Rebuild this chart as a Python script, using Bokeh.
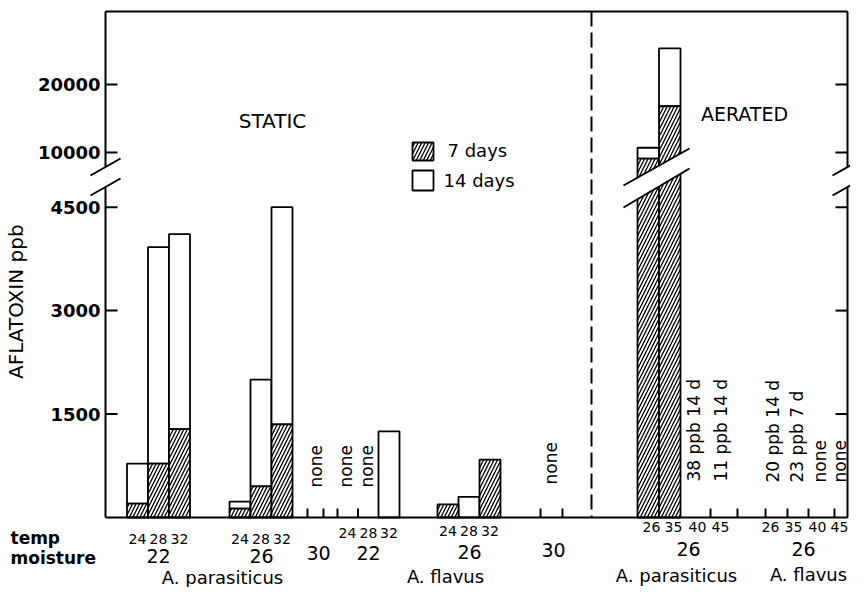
import math
from bokeh.plotting import figure
from bokeh.models import Range1d
from bokeh.core.properties import value
from bokeh.embed import file_html
from bokeh.resources import INLINE

# ---------------- data (ppb) ----------------
STATIC_TEMPS = ["24", "28", "32"]
AERATED_TEMPS = ["26", "35", "40", "45"]
Y_TICKS = [1500, 3000, 4500, 10000, 20000]
Y_TICK_LABELS = ["1500", "3000", "4500", "10000", "20000"]

# STATIC, A. parasiticus, temps 24 / 28 / 32
para_m22_7d = [200, 780, 1280]
para_m22_14d = [780, 3920, 4110]
para_m26_7d = [130, 450, 1350]
para_m26_14d = [230, 2000, 4500]
para_m30_note = "none"

# STATIC, A. flavus
flav_m22_7d = [None, None, 0]
flav_m22_14d = [None, None, 1250]
flav_m26_7d = [190, 0, 840]
flav_m26_14d = [190, 300, 840]
flav_m30_note = "none"

# AERATED, moisture 26, temps 26 / 35 / 40 / 45
aer_para_7d = [9100, 16800, None, None]
aer_para_14d = [10700, 25300, None, None]
aer_para_notes = [None, None, "38 ppb  14 d", "11 ppb  14 d"]
aer_flav_notes = ["20 ppb  14 d", "23 ppb  7 d", "none", "none"]

MOISTURE_LABELS = ["22", "26", "30", "22", "26", "30", "26", "26"]
SPECIES_LABELS = ["A. parasiticus", "A. flavus", "A. parasiticus", "A. flavus"]

# ---------------- layout ----------------
W, H = 850, 587
Y0 = 517            # canvas y of zero
PPB_PX = 14.5       # ppb per pixel (lower scale)


def py(cy):
    return (Y0 - cy) * PPB_PX


BREAK_AT = 4800
UP_BASE = py(152)                     # display position of 10000
UP_K = (py(84) - py(152)) / 10000.0   # upper-scale compression


def disp(v):
    return v if v <= BREAK_AT else UP_BASE + (v - 10000) * UP_K


FONT = value("DejaVu Sans")
BAR_W = 21
C_PARA22 = [137, 158, 179]
C_PARA26 = [239.5, 260.5, 281.5]
C_FLAV22 = [347, 368, 388.5]
C_FLAV26 = [447.5, 468.5, 489.5]
C_AERP = [647.75, 669.25, 694, 721]
C_AERF = [772, 796, 819, 839]
L_AERP = [651, 673, 697, 720]
L_AERF = [770, 793, 817, 839]
AER_W = 21.5

X_LEFT, X_RIGHT, Y_TOP = 105, 847, 11
LINE_W = 2.0

p = figure(width=W, height=H, x_range=Range1d(0, W),
           y_range=Range1d(py(H), py(0)),
           x_axis_type=None, y_axis_type=None, toolbar_location=None,
           output_backend="svg", min_border=0, outline_line_color=None)
p.grid.visible = False


def txt(x, y, s, size, align="center", bold=False, angle=0, base="middle"):
    p.text([x], [y], text=[s], text_font=FONT, text_font_size=f"{size}px",
           text_align=align, text_baseline=base, angle=angle,
           text_font_style="bold" if bold else "normal", text_color="black")


# ---------- bars ----------
hl, hr, hb, ht = [], [], [], []
wl, wr, wb, wt = [], [], [], []


def add_bars(centers, width, v7, v14):
    for c, a, b in zip(centers, v7, v14):
        if a is None and b is None:
            continue
        a = a or 0
        if a > 0:
            hl.append(c - width / 2); hr.append(c + width / 2)
            hb.append(0); ht.append(disp(a))
        if b is not None and b > a:
            wl.append(c - width / 2); wr.append(c + width / 2)
            wb.append(disp(a)); wt.append(disp(b))


add_bars(C_PARA22, BAR_W, para_m22_7d, para_m22_14d)
add_bars(C_PARA26, BAR_W, para_m26_7d, para_m26_14d)
add_bars(C_FLAV22, BAR_W, flav_m22_7d, flav_m22_14d)
add_bars(C_FLAV26, BAR_W, flav_m26_7d, flav_m26_14d)
add_bars(C_AERP, AER_W, aer_para_7d, aer_para_14d)

HATCH = dict(hatch_pattern="/", hatch_color="black", hatch_scale=7, hatch_weight=1.3)
p.quad(left=wl, right=wr, bottom=wb, top=wt, fill_color="white",
       line_color="black", line_width=1.8)
p.quad(left=hl, right=hr, bottom=hb, top=ht, fill_color="white",
       line_color="black", line_width=1.8, **HATCH)

# break across the aerated bars
BX0, BX1 = 623, 689
UPPER = (185, 148)
LOWER = (207, 168)
p.patch([BX0, BX1, BX1, BX0], [py(UPPER[0]), py(UPPER[1]), py(LOWER[1]), py(LOWER[0])],
        fill_color="white", line_color=None)
p.segment([BX0, BX0], [py(UPPER[0]), py(LOWER[0])], [BX1, BX1],
          [py(UPPER[1]), py(LOWER[1])], line_color="black", line_width=LINE_W)

# ---------- frame / axes ----------
BR_TOP, BR_BOT = 166, 187
p.segment([X_LEFT, X_LEFT, X_LEFT, X_RIGHT, X_RIGHT, X_LEFT],
          [py(Y0), py(BR_TOP), py(Y_TOP), py(Y_TOP), py(BR_BOT), py(Y0)],
          [X_LEFT, X_LEFT, X_RIGHT, X_RIGHT, X_RIGHT, X_RIGHT],
          [py(BR_BOT), py(Y_TOP), py(Y_TOP), py(BR_TOP), py(Y0), py(Y0)],
          line_color="black", line_width=LINE_W)
for bx in (X_LEFT, X_RIGHT):
    p.segment([bx - 15, bx - 15], [py(175), py(195)], [bx + 15, bx + 15],
              [py(158), py(178)], line_color="black", line_width=LINE_W)

yt = [disp(t) for t in Y_TICKS]
p.segment([X_LEFT] * len(yt), yt, [X_LEFT + 12] * len(yt), yt,
          line_color="black", line_width=LINE_W)
p.segment([X_RIGHT - 12] * len(yt), yt, [X_RIGHT] * len(yt), yt,
          line_color="black", line_width=LINE_W)
p.text([X_LEFT - 5] * len(yt), yt, text=Y_TICK_LABELS, text_font=FONT,
       text_font_size="18px", text_font_style="bold", text_align="right",
       text_baseline="middle", text_color="black")

BOTTOM_TICKS = [307, 323, 337, 357.5, 540, 562, 710, 737, 765, 787, 808, 834]
p.segment(BOTTOM_TICKS, [py(Y0)] * len(BOTTOM_TICKS), BOTTOM_TICKS,
          [py(Y0 - 9)] * len(BOTTOM_TICKS), line_color="black", line_width=LINE_W)

p.segment([591], [py(Y_TOP)], [591], [py(Y0)], line_color="black",
          line_width=LINE_W, line_dash="15 6")

# ---------- vertical notes ----------
up = math.pi / 2
NOTE = 17
txt(315, py(487), para_m30_note, NOTE, align="left", angle=up)
for c, v in zip(C_FLAV22, flav_m22_14d):
    if v is None:
        txt(c - 1.5, py(487), "none", NOTE, align="left", angle=up)
txt(550, py(484), flav_m30_note, NOTE, align="left", angle=up)
for c, n in zip(C_AERP, aer_para_notes):
    if n:
        txt(c - 1, py(481), n, NOTE, align="left", angle=up)
for c, n in zip(C_AERF, aer_flav_notes):
    if n:
        txt(c, py(482), n, NOTE, align="left", angle=up)

# ---------- category labels ----------
TEMP_SIZE = 14
for cs, yy in ((C_PARA22, 538), (C_PARA26, 538), (C_FLAV22, 532), (C_FLAV26, 530)):
    for c, t in zip(cs, STATIC_TEMPS):
        txt(c, py(yy), t, TEMP_SIZE)
for cs in (L_AERP, L_AERF):
    for c, t in zip(cs, AERATED_TEMPS):
        txt(c, py(526), t, TEMP_SIZE)

MOIST_POS = [(158, 555), (261, 555), (318, 552), (368, 552), (469, 551),
             (553, 549), (688, 548), (803, 548)]
for (mx, my), s in zip(MOIST_POS, MOISTURE_LABELS):
    txt(mx, py(my), s, 19)

txt(10, py(537), "temp", 17, align="left", bold=True)
txt(10, py(557), "moisture", 17, align="left", bold=True)

SPEC_POS = [(222, 577), (445, 576), (676, 575), (808, 574)]
for (sx, sy), s in zip(SPEC_POS, SPECIES_LABELS):
    txt(sx, py(sy), s, 18)

txt(272, py(120), "STATIC", 20)
txt(744, py(113), "AERATED", 19)

# legend
p.quad(left=[412], right=[433], bottom=[py(160)], top=[py(142)], fill_color="white",
       line_color="black", line_width=1.8, **HATCH)
p.quad(left=[412], right=[433], bottom=[py(190)], top=[py(170)], fill_color="white",
       line_color="black", line_width=1.8)
txt(447, py(150), "7 days", 18, align="left")
txt(443, py(180), "14 days", 18, align="left")

# y-axis title
txt(15, py(298), "AFLATOXIN  ppb", 20, angle=up)

open("out.html", "w").write(file_html(p, INLINE))
